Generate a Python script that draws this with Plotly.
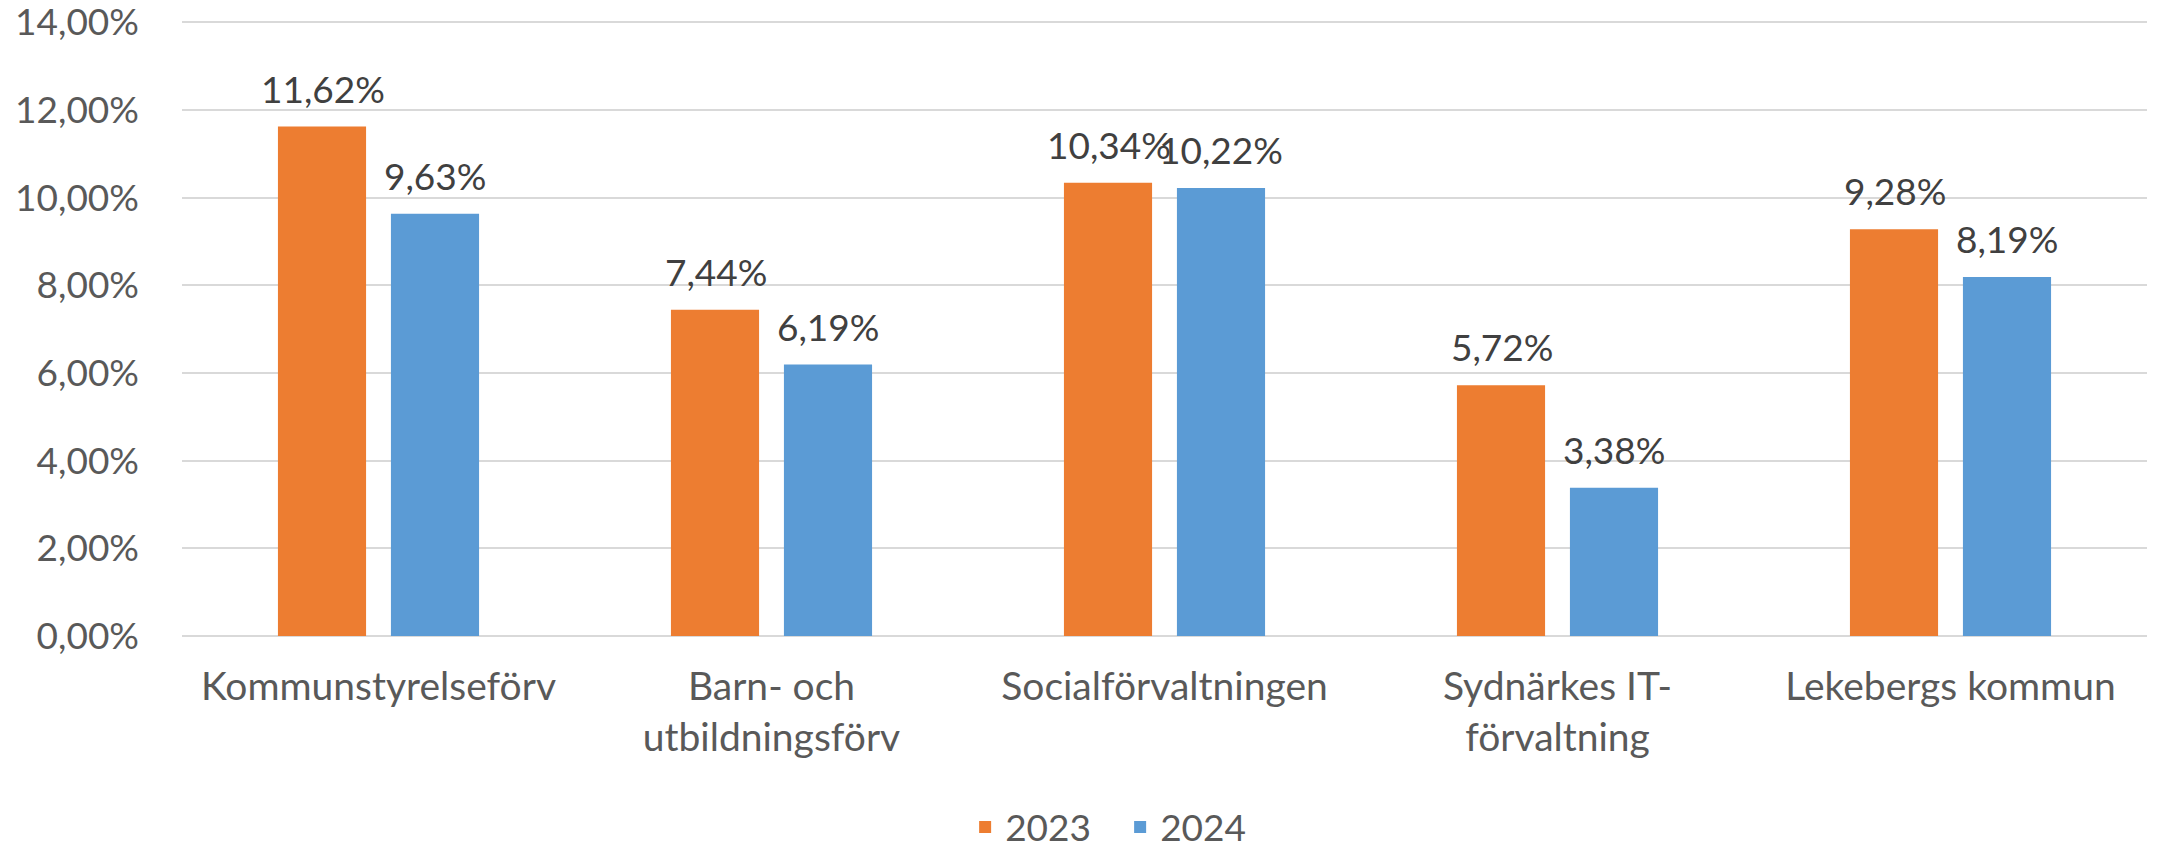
import plotly.graph_objects as go

categories = ["Kommunstyrelseförv", "Barn- och<br>utbildningsförv", "Socialförvaltningen",
              "Sydnärkes IT-<br>förvaltning", "Lekebergs kommun"]
values_2023 = [0.1162, 0.0744, 0.1034, 0.0572, 0.0928]
values_2024 = [0.0963, 0.0619, 0.1022, 0.0338, 0.0819]
y_ticks = [0, 0.02, 0.04, 0.06, 0.08, 0.10, 0.12, 0.14]

FONT = "Lato"
FS_TEXT = 39
FS_NUM = 37
series = [("2023", values_2023, "#ED7D31", -56), ("2024", values_2024, "#5B9BD5", 56)]

fig = go.Figure()
for name, vals, col, dx in series:
    fig.add_trace(go.Bar(
        name=name, x=categories, y=vals, marker=dict(color=col, line=dict(width=0)),
        hoverinfo="skip",
    ))
    for c, v in zip(categories, vals):
        fig.add_annotation(
            x=c, y=v, xref="x", yref="y", text=f"{v*100:.2f}%".replace(".", ","),
            showarrow=False, xshift=dx, yanchor="bottom", yshift=14,
            font=dict(family=FONT, size=FS_NUM, color="#404040"),
        )

fig.update_layout(
    template="none",
    width=2175, height=849,
    margin=dict(l=182, r=28, t=20, b=213, pad=0),
    paper_bgcolor="white", plot_bgcolor="white",
    separators=",.",
    barmode="group", bargap=0.425, bargroupgap=0.22,
    font=dict(family=FONT, size=FS_TEXT, color="#595959"),
    legend=dict(orientation="h", xref="container", yref="container",
                x=0.515, xanchor="center", y=0.062, yanchor="top",
                font=dict(family=FONT, size=FS_NUM, color="#595959"),
                itemwidth=30, tracegroupgap=0, entrywidth=110, entrywidthmode="pixels"),
    showlegend=True,
)
fig.update_yaxes(range=[0, 0.1405], tickmode="array", tickvals=y_ticks, tickformat=".2%",
                 showgrid=True, gridcolor="#D9D9D9", gridwidth=2,
                 zeroline=True, zerolinecolor="#D9D9D9", zerolinewidth=2,
                 showline=False, ticks="", ticklabelstandoff=42, automargin=False,
                 ticklabeloverflow="allow",
                 tickfont=dict(family=FONT, size=FS_NUM, color="#595959"))
fig.update_xaxes(showline=False, ticks="", ticklabelstandoff=24, automargin=False,
                 showgrid=False, zeroline=False, ticklabeloverflow="allow",
                 tickfont=dict(family=FONT, size=FS_TEXT, color="#595959"))

fig.write_html("out.html", config={"displayModeBar": False},
               post_script="document.body.style.margin='0';")
